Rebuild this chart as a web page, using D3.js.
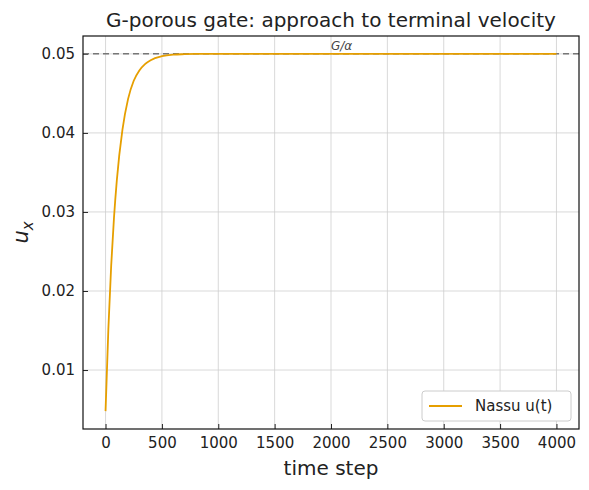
<!DOCTYPE html>
<html><head><meta charset="utf-8">
<script src="https://cdn.jsdelivr.net/npm/d3@7"></script>
<style>body{margin:0;background:#fff}text{font-family:"DejaVu Sans",sans-serif}</style>
</head><body><div id="root"></div>
<script>
const width = 589, height = 490;
const margin = {top: 36, right: 10, bottom: 61, left: 83};

// Data
const steps = [0, 25, 50, 75, 100, 150, 200, 250, 300, 350, 400, 500, 600, 700, 800, 1000, 2000, 3000, 4000];
const velocity = [0.0048, 0.0152, 0.0232, 0.0293, 0.0340, 0.0404, 0.0443, 0.0466, 0.0479, 0.0487, 0.0492, 0.0497, 0.0499, 0.04996, 0.04999, 0.05, 0.05, 0.05, 0.05];
const terminal = 0.05;
const xTicks = [0, 500, 1000, 1500, 2000, 2500, 3000, 3500, 4000];
const yTicks = [0.01, 0.02, 0.03, 0.04, 0.05];

const svg = d3.select('#root').append('svg').attr('width', width).attr('height', height);
const pw = width - margin.left - margin.right, ph = height - margin.top - margin.bottom;
const g = svg.append('g').attr('transform', `translate(${margin.left},${margin.top})`);

const x = d3.scaleLinear().domain([-200, 4200]).range([0, pw]);
const y = d3.scaleLinear().domain([0.00254, 0.05226]).range([ph, 0]);

// Grid
g.append('g').selectAll('line').data(xTicks).join('line')
  .attr('x1', d => x(d)).attr('x2', d => x(d)).attr('y1', 0).attr('y2', ph)
  .attr('stroke', '#cfcfcf').attr('stroke-width', 0.8);
g.append('g').selectAll('line').data(yTicks).join('line')
  .attr('y1', d => y(d)).attr('y2', d => y(d)).attr('x1', 0).attr('x2', pw)
  .attr('stroke', '#cfcfcf').attr('stroke-width', 0.8);

// Axes
const xa = g.append('g').attr('transform', `translate(0,${ph})`)
  .call(d3.axisBottom(x).tickValues(xTicks).tickFormat(d3.format('d')).tickSizeInner(-5).tickSizeOuter(0).tickPadding(8));
const ya = g.append('g')
  .call(d3.axisLeft(y).tickValues(yTicks).tickFormat(d3.format('.2f')).tickSizeInner(-5).tickSizeOuter(0).tickPadding(8));
[xa, ya].forEach(a => {
  a.select('.domain').remove();
  a.selectAll('text').attr('font-size', 15).attr('fill', '#222');
  a.selectAll('line').attr('stroke', '#222');
});

// Terminal velocity line
g.append('line').attr('x1', 0).attr('x2', pw).attr('y1', y(terminal)).attr('y2', y(terminal))
  .attr('stroke', '#777').attr('stroke-width', 1.5).attr('stroke-dasharray', '6,4');
g.append('text').attr('x', x(2000)).attr('y', y(terminal) - 4).attr('font-size', 12)
  .attr('fill', '#444').attr('font-style', 'italic').text('G/α');

// Curve
g.append('path').datum(steps.map((s, i) => [s, velocity[i]]))
  .attr('fill', 'none').attr('stroke', '#e69f00').attr('stroke-width', 1.8)
  .attr('d', d3.line().x(d => x(d[0])).y(d => y(d[1])).curve(d3.curveMonotoneX));

// Frame
g.append('rect').attr('width', pw).attr('height', ph).attr('fill', 'none').attr('stroke', '#111').attr('stroke-width', 1.2);

// Legend
const lg = g.append('g').attr('transform', `translate(${pw - 157},${ph - 38})`);
lg.append('rect').attr('width', 149).attr('height', 30).attr('rx', 3).attr('fill', '#fff').attr('stroke', '#ccc');
lg.append('line').attr('x1', 7).attr('x2', 40).attr('y1', 15).attr('y2', 15).attr('stroke', '#e69f00').attr('stroke-width', 1.8);
lg.append('text').attr('x', 53).attr('y', 20).attr('font-size', 15).attr('fill', '#222').text('Nassu u(t)');

// Titles
svg.append('text').attr('x', margin.left + pw / 2).attr('y', 27).attr('text-anchor', 'middle')
  .attr('font-size', 20).attr('fill', '#222').text('G-porous gate: approach to terminal velocity');
svg.append('text').attr('x', margin.left + pw / 2).attr('y', 475).attr('text-anchor', 'middle')
  .attr('font-size', 20).attr('fill', '#222').text('time step');
const yl = svg.append('text').attr('transform', `translate(28,${margin.top + ph / 2}) rotate(-90)`)
  .attr('text-anchor', 'middle').attr('font-size', 21).attr('fill', '#222').attr('font-style', 'italic');
yl.append('tspan').text('u');
yl.append('tspan').attr('font-size', 15).attr('dy', 5).text('x');
</script></body></html>
